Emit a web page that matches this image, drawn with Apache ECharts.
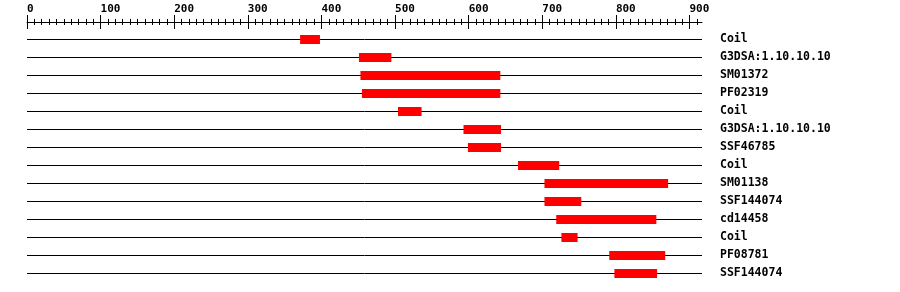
<!DOCTYPE html>
<html>
<head>
<meta charset="utf-8">
<script src="https://cdn.jsdelivr.net/npm/echarts@6/dist/echarts.min.js"></script>
<style>html,body{margin:0;padding:0;background:#fff;}#c{width:900px;height:292px;}</style>
</head>
<body>
<div id="c"></div>
<script>
const names = ['Coil','G3DSA:1.10.10.10','SM01372','PF02319','Coil','G3DSA:1.10.10.10','SSF46785','Coil','SM01138','SSF144074','cd14458','Coil','PF08781','SSF144074'];
const starts = [371,451,453,455,504,593,599,667,703,703,719,726,791,798];
const ends   = [398,495,643,643,536,644,644,723,871,753,855,748,867,856];
const seqLength = 917;
const tickValues = [0,100,200,300,400,500,600,700,800,900];

const FONT = 'DejaVu Sans Mono';
const chart = echarts.init(document.getElementById('c'), null, {renderer:'canvas'});
const data = names.map((n,i)=>[starts[i], ends[i], i]);

const axisCommon = {
  type:'value', min:0, max:seqLength, interval:100, position:'top', offset:8,
  splitLine:{show:false}
};
chart.setOption({
  animation:false,
  backgroundColor:'#fff',
  grid:{left:27, width:675, top:30, height:252},
  xAxis:[
    Object.assign({}, axisCommon, {
      axisLine:{show:true, lineStyle:{color:'#000', width:1}},
      axisTick:{show:true, customValues:tickValues, length:7, inside:false, lineStyle:{color:'#000'}},
      minorTick:{show:true, splitNumber:10, length:3, lineStyle:{color:'#000'}},
      axisLabel:{show:true, customValues:tickValues, align:'left', margin:7, color:'#000',
        fontFamily:FONT, fontWeight:'bold', fontSize:11}
    }),
    Object.assign({}, axisCommon, {
      axisLine:{show:false},
      axisTick:{show:true, customValues:tickValues, length:7, inside:true, lineStyle:{color:'#000'}},
      minorTick:{show:true, splitNumber:10, length:3, lineStyle:{color:'#000'}},
      axisLabel:{show:false}
    })
  ],
  yAxis:{
    type:'category', data:names, inverse:true, position:'right',
    axisLine:{show:false}, axisTick:{show:false}, splitLine:{show:false},
    axisLabel:{show:true, align:'left', margin:18, color:'#000', fontFamily:FONT, fontWeight:'bold', fontSize:11.5}
  },
  series:[{
    type:'custom',
    xAxisIndex:0,
    data:data,
    encode:{x:[0,1], y:2},
    renderItem:function(params, api){
      const row = api.value(2);
      const a = api.coord([0, row]);
      const b = api.coord([seqLength, row]);
      const s = api.coord([api.value(0), row]);
      const e = api.coord([api.value(1), row]);
      const y = Math.round(a[1]);
      return {type:'group', children:[
        {type:'line', shape:{x1:a[0], y1:y+0.5, x2:b[0], y2:y+0.5}, style:{stroke:'#000', lineWidth:1}},
        {type:'rect', shape:{x:s[0], y:y-4, width:e[0]-s[0], height:9}, style:{fill:'#ff0000'}}
      ]};
    }
  }]
});
</script>
</body>
</html>
